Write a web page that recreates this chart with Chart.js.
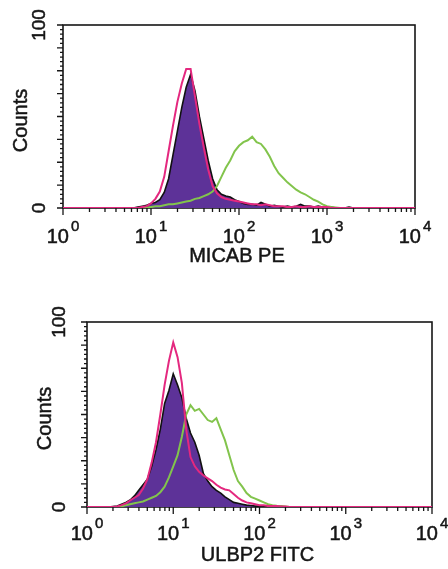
<!DOCTYPE html>
<html>
<head>
<meta charset="utf-8">
<title>MICAB PE / ULBP2 FITC</title>
<script src="https://cdn.jsdelivr.net/npm/chart.js@4.4.1/dist/chart.umd.min.js"></script>
<style>
  body { margin: 0; background: #fff; }
  canvas { position: absolute; left: 0; }
  #micabChart { top: 0; }
  #ulbpChart { top: 285px; }
</style>
</head>
<body>
<canvas id="micabChart" width="448" height="285"></canvas>
<canvas id="ulbpChart" width="448" height="284"></canvas>
<script>
// Fluorescence channel (bin centre), 20 bins per decade, 10^0 .. 10^4
const channels = [
  1, 1.122, 1.259, 1.413, 1.585, 1.778, 1.995, 2.239, 2.512, 2.818,
  3.162, 3.548, 3.981, 4.467, 5.012, 5.623, 6.310, 7.079, 7.943, 8.913,
  10, 11.22, 12.59, 14.13, 15.85, 17.78, 19.95, 22.39, 25.12, 28.18,
  31.62, 35.48, 39.81, 44.67, 50.12, 56.23, 63.10, 70.79, 79.43, 89.13,
  100, 112.2, 125.9, 141.3, 158.5, 177.8, 199.5, 223.9, 251.2, 281.8,
  316.2, 354.8, 398.1, 446.7, 501.2, 562.3, 631.0, 707.9, 794.3, 891.3,
  1000, 1122, 1259, 1413, 1585, 1778, 1995, 2239, 2512, 2818,
  3162, 3548, 3981, 4467, 5012, 5623, 6310, 7079, 7943, 8913,
  10000
];

// MICAB PE histogram (counts)
const micabFilled = [
  0, 0, 0, 0, 0, 0, 0, 0, 0, 0, 0, 0, 0, 0, 0, 0, 0, 0.5, 1, 1.5,
  2.5, 3, 4.5, 8.5, 16, 29, 42, 55, 66, 73, 64, 50, 38, 26, 16, 10, 7.5, 6.5, 6, 4.5,
  3.5, 2.5, 2, 2, 1.5, 3, 2, 1, 1.5, 1, 0.5, 1, 0.5, 1, 2, 1, 1, 0.5, 1, 0.5,
  0.5, 0.5, 0, 0, 0, 0.5, 0, 0, 0, 0, 0, 0, 0, 0, 0, 0, 0, 0, 0, 0,
  0
];
const micabPink = [
  0, 0, 0, 0, 0, 0, 0, 0, 0, 0, 0, 0, 0, 0, 0, 0, 0, 0, 0.5, 1,
  2.5, 5, 9, 17, 31, 45, 58, 68, 76, 76, 61, 46, 33, 21, 12, 8, 6, 5, 4.5, 4,
  3.5, 3, 2.5, 2, 2, 1.5, 2, 1.5, 1, 1, 1, 0.5, 0.5, 1, 0.5, 0.5, 1, 0.5, 0.5, 0.5,
  0.5, 0, 0, 0, 0, 0, 0, 0, 0, 0, 0, 0, 0, 0, 0, 0, 0, 0, 0, 0,
  0
];
const micabGreen = [
  0, 0, 0, 0, 0, 0, 0, 0, 0, 0, 0, 0, 0, 0, 0, 0, 0, 0, 0, 0,
  0.5, 1, 1, 1.5, 2, 2, 2.5, 3, 3.5, 4, 5, 5.5, 6.5, 7.5, 9, 12, 17, 22, 26, 31,
  34, 36, 37, 39, 36, 35, 32, 28, 23, 19, 16.5, 14, 12, 10, 8.5, 7.5, 6, 4.5, 3.5, 2,
  1, 0.5, 0.3, 0, 0, 0, 0, 0, 0, 0, 0, 0, 0, 0, 0, 0, 0, 0, 0, 0,
  0
];

// ULBP2 FITC histogram (counts)
const ulbpFilled = [
  0, 0, 0, 0, 0, 0, 0.3, 0.5, 1.5, 2.5, 3.8, 6, 9, 12, 15, 22, 31, 42, 56, 63,
  72, 66, 59, 48, 40, 35, 28, 18, 14, 11, 9, 7.5, 5.5, 4, 2.5, 2, 1.5, 1, 0.8, 0.5,
  0.5, 0.5, 0.5, 0.3, 0.3, 0.3, 0, 0, 0, 0, 0, 0, 0, 0, 0, 0, 0, 0, 0, 0,
  0, 0, 0, 0, 0, 0, 0, 0, 0, 0, 0, 0, 0, 0, 0, 0, 0, 0, 0, 0,
  0
];
const ulbpPink = [
  0, 0, 0, 0, 0, 0, 0, 0.3, 1, 2, 3.5, 5, 6.5, 10, 15, 24, 35, 50, 66, 79,
  89, 81, 67, 42, 27, 22, 19, 17, 15.5, 14, 12, 10.5, 9.5, 9, 7, 5, 3.5, 2.5, 2, 1.5,
  1, 1, 0.5, 0.5, 0.5, 0.3, 0.3, 0, 0, 0, 0, 0, 0, 0, 0, 0, 0, 0, 0, 0,
  0, 0, 0, 0, 0, 0, 0, 0, 0, 0, 0, 0, 0, 0, 0, 0, 0, 0, 0, 0,
  0
];
const ulbpGreen = [
  0, 0, 0, 0, 0, 0, 0, 0, 0.3, 1, 1.5, 2, 2.5, 3, 4, 5, 6, 8, 11, 16,
  22, 28, 38, 50, 55, 52, 53, 50, 47, 46, 48, 42, 36, 28, 20, 14, 11, 7.5, 5.5, 4.5,
  3.5, 2.5, 1.5, 1, 0.7, 0.5, 0.3, 0, 0, 0, 0, 0, 0, 0, 0, 0, 0, 0, 0, 0,
  0, 0, 0, 0, 0, 0, 0, 0, 0, 0, 0, 0, 0, 0, 0, 0, 0, 0, 0, 0,
  0
];

// Axis ticks and labels
const xMajorTicks = [1, 10, 100, 1000, 10000];
const xTickExponents = ['0', '1', '2', '3', '4'];
const xMinorTicks = [
  2, 3, 4, 5, 6, 7, 8, 9,
  20, 30, 40, 50, 60, 70, 80, 90,
  200, 300, 400, 500, 600, 700, 800, 900,
  2000, 3000, 4000, 5000, 6000, 7000, 8000, 9000
];
const yTickValues = [0, 100];
const yTickLabels = ['0', '100'];
const yMinorStep = 2.5;
const yMajorStep = 12.5;

const FONT = '"Liberation Sans", Arial, sans-serif';
const INK = '#161616';
const PURPLE = '#5d3298';
const PINK = '#e4287f';
const GREEN = '#82c44c';

// slightly heavier text, like the scanned figure
function drawText(ctx, text, x, y) {
  ctx.fillText(text, x, y);
  ctx.strokeText(text, x, y);
}

// frame, tick marks and labels drawn off the chart's own scales
const cytoAxes = {
  id: 'cytoAxes',
  beforeDatasetsDraw(chart) {
    const { ctx, chartArea: a } = chart;
    ctx.save();
    ctx.strokeStyle = INK;
    ctx.lineWidth = 1.6;
    ctx.strokeRect(a.left, a.top, a.right - a.left, a.bottom - a.top);
    ctx.restore();
  },
  afterDraw(chart, args, opts) {
    const { ctx, chartArea: a } = chart;
    const x = chart.scales.x, y = chart.scales.y;
    ctx.save();
    ctx.strokeStyle = INK;
    ctx.lineWidth = 1.3;
    ctx.beginPath();
    xMinorTicks.forEach(v => {
      const px = x.getPixelForValue(v);
      ctx.moveTo(px, a.bottom);
      ctx.lineTo(px, a.bottom + 4);
    });
    xMajorTicks.forEach(v => {
      const px = x.getPixelForValue(v);
      ctx.moveTo(px, a.bottom);
      ctx.lineTo(px, a.bottom + 7);
    });
    for (let v = 0; v <= 100; v += yMinorStep) {
      const py = y.getPixelForValue(v);
      const len = v % yMajorStep === 0 ? 6 : 3;
      ctx.moveTo(a.left, py);
      ctx.lineTo(a.left - len, py);
    }
    ctx.stroke();

    ctx.fillStyle = INK;
    ctx.lineWidth = 0.5;
    ctx.textBaseline = 'alphabetic';

    // x tick labels: 10 with raised exponent
    xMajorTicks.forEach((v, i) => {
      const px = x.getPixelForValue(v);
      ctx.font = '20px ' + FONT;
      const w1 = ctx.measureText('10').width;
      ctx.font = '15px ' + FONT;
      const w2 = ctx.measureText(xTickExponents[i]).width;
      const left = px - (w1 + 2 + w2) / 2;
      const base = a.bottom + opts.tickBase;
      ctx.font = '20px ' + FONT;
      ctx.textAlign = 'left';
      drawText(ctx, '10', left, base);
      ctx.font = '15px ' + FONT;
      drawText(ctx, xTickExponents[i], left + w1 + 2, base - 12);
    });

    // x title
    ctx.font = '20px ' + FONT;
    ctx.textAlign = 'center';
    drawText(ctx, opts.xTitle, (a.left + a.right) / 2 - 2, a.bottom + 54);

    // y tick labels and title, rotated
    ctx.font = '19px ' + FONT;
    yTickValues.forEach((v, i) => {
      ctx.save();
      ctx.translate(a.left - opts.yLabelGap, y.getPixelForValue(v));
      ctx.rotate(-Math.PI / 2);
      ctx.textAlign = 'center';
      drawText(ctx, yTickLabels[i], 0, 0);
      ctx.restore();
    });
    ctx.font = '20px ' + FONT;
    ctx.save();
    ctx.translate(a.left - 36, (a.top + a.bottom) / 2 + 4);
    ctx.rotate(-Math.PI / 2);
    ctx.textAlign = 'center';
    drawText(ctx, 'Counts', 0, 0);
    ctx.restore();
    ctx.restore();
  }
};

function toPoints(values) {
  return channels.map((c, i) => ({ x: c, y: values[i] }));
}

function makeHistogram(canvasId, filled, pink, green, padding, axisOpts) {
  return new Chart(document.getElementById(canvasId), {
    type: 'line',
    data: {
      datasets: [
        {
          data: toPoints(filled),
          borderColor: '#111',
          borderWidth: 1.6,
          backgroundColor: PURPLE,
          fill: 'origin',
          order: 3
        },
        {
          data: toPoints(green),
          borderColor: GREEN,
          borderWidth: 2,
          fill: false,
          order: 2
        },
        {
          data: toPoints(pink),
          borderColor: PINK,
          borderWidth: 2,
          fill: false,
          order: 1
        }
      ]
    },
    options: {
      responsive: false,
      animation: false,
      layout: { padding: padding },
      elements: { point: { radius: 0 }, line: { tension: 0 } },
      scales: {
        x: { type: 'logarithmic', min: 1, max: 10000, display: false },
        y: { type: 'linear', min: 0, max: 100, display: false }
      },
      plugins: {
        legend: { display: false },
        tooltip: { enabled: false },
        cytoAxes: axisOpts
      }
    },
    plugins: [cytoAxes]
  });
}

makeHistogram('micabChart', micabFilled, micabPink, micabGreen,
  { left: 63, top: 25, right: 33, bottom: 77 },
  { xTitle: 'MICAB PE', tickBase: 35, yLabelGap: 18 });

makeHistogram('ulbpChart', ulbpFilled, ulbpPink, ulbpGreen,
  { left: 87, top: 37, right: 16, bottom: 62 },
  { xTitle: 'ULBP2 FITC', tickBase: 33, yLabelGap: 22 });
</script>
</body>
</html>
